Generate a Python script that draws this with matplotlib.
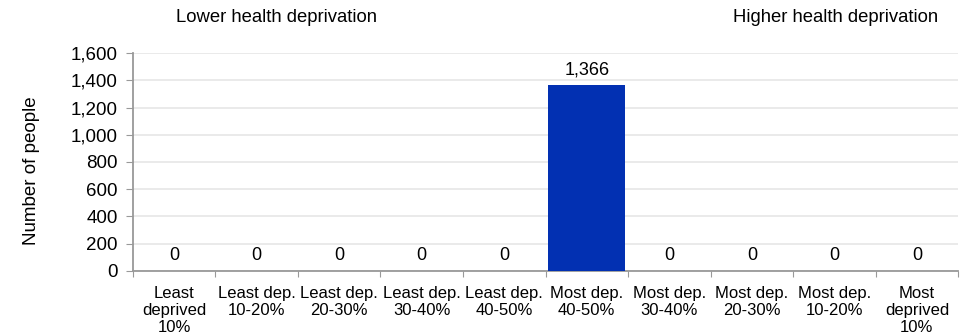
import matplotlib.pyplot as plt
import numpy as np

plt.rcParams['font.family'] = ['Liberation Sans', 'DejaVu Sans']

categories = ["Least\ndeprived\n10%", "Least dep.\n10-20%", "Least dep.\n20-30%",
              "Least dep.\n30-40%", "Least dep.\n40-50%", "Most dep.\n40-50%",
              "Most dep.\n30-40%", "Most dep.\n20-30%", "Most dep.\n10-20%",
              "Most\ndeprived\n10%"]
people = [0, 0, 0, 0, 0, 1366, 0, 0, 0, 0]
y_ticks = [0, 200, 400, 600, 800, 1000, 1200, 1400, 1600]

fig = plt.figure(figsize=(9.63, 3.34), dpi=100)
ax = fig.add_axes([0.138, 0.189, 0.857, 0.652])

x = np.arange(len(categories))
ax.bar(x, people, width=0.93, color='#0230B2', zorder=3)

# data labels
for xi, v in zip(x, people):
    ax.annotate(f"{v:,}", (xi, v), xytext=(0, 5), textcoords='offset points',
                ha='center', va='bottom', fontsize=13)

ax.set_xlim(-0.5, len(categories) - 0.5)
ax.set_ylim(0, 1600)
ax.set_yticks(y_ticks)
ax.set_yticklabels([f"{t:,}" for t in y_ticks], fontsize=13.5)
ax.yaxis.grid(True, color='#E6E6E6', linewidth=1.2, zorder=0)

# categories between tick marks
ax.set_xticks(np.arange(len(categories) + 1) - 0.5)
ax.set_xticklabels([])
ax.set_xticks(x, minor=True)
ax.set_xticklabels(categories, minor=True, fontsize=12, linespacing=1.15)
ax.tick_params(axis='x', which='minor', length=0, pad=11)
ax.tick_params(axis='x', which='major', length=4, color='#999999')
ax.tick_params(axis='y', length=5, color='#999999', pad=6)

for s in ['top', 'right']:
    ax.spines[s].set_visible(False)
ax.spines['left'].set_color('#999999')
ax.spines['bottom'].set_color('#999999')
ax.spines['left'].set_linewidth(1.3)
ax.spines['bottom'].set_linewidth(1.3)

ax.set_ylabel("Number of people", fontsize=13.5)
ax.yaxis.set_label_coords(-0.112, 0.46)

fig.text(277 / 963, 1 - 18 / 334, "Lower health deprivation", ha='center', va='center', fontsize=13.3)
fig.text(938 / 963, 1 - 18 / 334, "Higher health deprivation", ha='right', va='center', fontsize=13.3)

fig.savefig("out.png", dpi=100)
